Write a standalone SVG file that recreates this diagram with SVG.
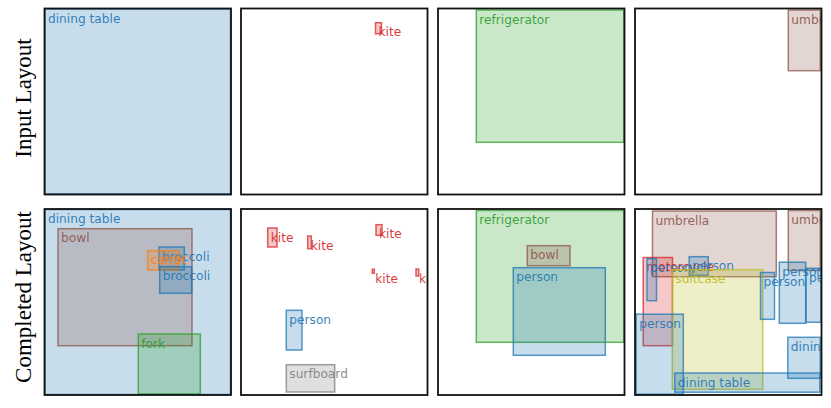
<svg xmlns="http://www.w3.org/2000/svg" width="831" height="408" viewBox="0 0 831 408">
<style>
rect.box{fill-opacity:.25;stroke-opacity:.75;stroke-width:1.5}
text.lbl{font-family:"DejaVu Sans",sans-serif;font-size:12.2px;fill-opacity:.92}
.frame{fill:none;stroke:#111;stroke-width:1.8}
.row{font-family:"Liberation Serif","Times New Roman",serif;font-size:23px;fill:#000}
.blue{fill:#1f77b4;stroke:#1f77b4}
.orange{fill:#ff7f0e;stroke:#ff7f0e}
.green{fill:#2ca02c;stroke:#2ca02c}
.red{fill:#d62728;stroke:#d62728}
.brown{fill:#8c564b;stroke:#8c564b}
.gray{fill:#7f7f7f;stroke:#7f7f7f}
.olive{fill:#bcbd22;stroke:#bcbd22}
text.blue,text.orange,text.green,text.red,text.brown,text.gray,text.olive{stroke:none}
</style>
<defs>
<clipPath id="c1"><rect x="44.5" y="8.5" width="186.5" height="186"/></clipPath>
<clipPath id="c2"><rect x="241" y="8.5" width="186.5" height="186"/></clipPath>
<clipPath id="c3"><rect x="438" y="8.5" width="186.5" height="186"/></clipPath>
<clipPath id="c4"><rect x="635" y="8.5" width="186.5" height="186"/></clipPath>
<clipPath id="c5"><rect x="44.5" y="209" width="186.5" height="186"/></clipPath>
<clipPath id="c6"><rect x="241" y="209" width="186.5" height="186"/></clipPath>
<clipPath id="c7"><rect x="438" y="209" width="186.5" height="186"/></clipPath>
<clipPath id="c8"><rect x="635" y="209" width="186.5" height="186"/></clipPath>
</defs>
<rect width="831" height="408" fill="#fff"/>
<text class="row" transform="translate(31,98) rotate(-90)" text-anchor="middle">Input Layout</text>
<text class="row" transform="translate(31,297) rotate(-90)" text-anchor="middle">Completed Layout</text>

<!-- Input row -->
<g id="in1" clip-path="url(#c1)">
<g id="in1-dining-table"><rect class="box blue" x="45" y="9" width="185.5" height="185"/><text class="lbl blue" x="48" y="22.5">dining table</text></g>
</g>
<g id="in2" clip-path="url(#c2)">
<g id="in2-kite"><rect class="box red" x="375.5" y="22.7" width="6" height="11"/><text class="lbl red" x="378.5" y="36.2">kite</text></g>
</g>
<g id="in3" clip-path="url(#c3)">
<g id="in3-refrigerator"><rect class="box green" x="476.3" y="10" width="147.5" height="132.3"/><text class="lbl green" x="479.3" y="23.5">refrigerator</text></g>
</g>
<g id="in4" clip-path="url(#c4)">
<g id="in4-umbrella"><rect class="box brown" x="788.3" y="10" width="32" height="60.7"/><text class="lbl brown" x="791.3" y="23.5">umbrella</text></g>
</g>

<!-- Completed row -->
<g id="out1" clip-path="url(#c5)">
<g id="out1-dining-table"><rect class="box blue" x="45" y="209.5" width="185.5" height="185"/><text class="lbl blue" x="48" y="223">dining table</text></g>
<g id="out1-bowl"><rect class="box brown" x="58" y="228.7" width="134" height="117"/><text class="lbl brown" x="61" y="242.2">bowl</text></g>
<g id="out1-broccoli-1"><rect class="box blue" x="159" y="247" width="25.3" height="23"/><text class="lbl blue" x="162" y="260.5">broccoli</text></g>
<g id="out1-carrot"><rect class="box orange" x="147.7" y="250.7" width="31.3" height="19.3"/><text class="lbl orange" x="150.7" y="264.2">carrot</text></g>
<g id="out1-broccoli-2"><rect class="box blue" x="159.7" y="266.7" width="32" height="26.6"/><text class="lbl blue" x="162.7" y="280.2">broccoli</text></g>
<g id="out1-fork"><rect class="box green" x="138.3" y="334" width="62" height="60"/><text class="lbl green" x="141.3" y="347.5">fork</text></g>
</g>

<g id="out2" clip-path="url(#c6)">
<g id="out2-kite-1"><rect class="box red" x="267.7" y="228" width="9.3" height="19"/><text class="lbl red" x="270.7" y="241.5">kite</text></g>
<g id="out2-kite-2"><rect class="box red" x="307.7" y="236" width="3.6" height="12.7"/><text class="lbl red" x="310.7" y="249.5">kite</text></g>
<g id="out2-kite-3"><rect class="box red" x="376" y="224.7" width="6" height="10.6"/><text class="lbl red" x="379" y="238.2">kite</text></g>
<g id="out2-kite-4"><rect class="box red" x="372.3" y="269.3" width="2" height="4"/><text class="lbl red" x="375.3" y="282.8">kite</text></g>
<g id="out2-kite-5"><rect class="box red" x="416" y="269" width="2.7" height="7"/><text class="lbl red" x="419" y="282.5">kite</text></g>
<g id="out2-person"><rect class="box blue" x="286.3" y="310.3" width="15.7" height="39.7"/><text class="lbl blue" x="289.3" y="323.8">person</text></g>
<g id="out2-surfboard"><rect class="box gray" x="286.3" y="364.7" width="48.4" height="27.3"/><text class="lbl gray" x="289.3" y="378.2">surfboard</text></g>
</g>

<g id="out3" clip-path="url(#c7)">
<g id="out3-refrigerator"><rect class="box green" x="476.3" y="210.5" width="147.5" height="131.8"/><text class="lbl green" x="479.3" y="224">refrigerator</text></g>
<g id="out3-bowl"><rect class="box brown" x="527.3" y="245.7" width="42.7" height="20"/><text class="lbl brown" x="530.3" y="259.2">bowl</text></g>
<g id="out3-person"><rect class="box blue" x="513.3" y="267.7" width="92" height="87.6"/><text class="lbl blue" x="516.3" y="281.2">person</text></g>
</g>

<g id="out4" clip-path="url(#c8)">
<g id="out4-umbrella-1"><rect class="box brown" x="652.5" y="211" width="123.8" height="65.7"/><text class="lbl brown" x="655.5" y="224.5">umbrella</text></g>
<g id="out4-umbrella-2"><rect class="box brown" x="788.3" y="210.5" width="32" height="60"/><text class="lbl brown" x="791.3" y="224">umbrella</text></g>
<g id="out4-motorcycle"><rect class="box red" x="643.2" y="257.5" width="29.3" height="88.2"/><text class="lbl red" x="646.2" y="271">motorcycle</text></g>
<g id="out4-person-1"><rect class="box blue" x="647" y="258.7" width="9.5" height="42"/><text class="lbl blue" x="650" y="272.2">person</text></g>
<g id="out4-person-2"><rect class="box blue" x="689.2" y="256.7" width="19" height="18.5"/><text class="lbl blue" x="692.2" y="270.2">person</text></g>
<g id="out4-suitcase"><rect class="box olive" x="672.3" y="269.7" width="90.4" height="119.6"/><text class="lbl olive" x="675.3" y="283.2">suitcase</text></g>
<g id="out4-person-3"><rect class="box blue" x="760.5" y="272.5" width="14" height="46.8"/><text class="lbl blue" x="763.5" y="286">person</text></g>
<g id="out4-person-4"><rect class="box blue" x="779.3" y="262.2" width="26.4" height="61.1"/><text class="lbl blue" x="782.3" y="275.7">person</text></g>
<g id="out4-person-5"><rect class="box blue" x="806" y="268.3" width="15" height="54"/><text class="lbl blue" x="809" y="281.8">person</text></g>
<g id="out4-person-6"><rect class="box blue" x="636.2" y="314.2" width="47.1" height="80"/><text class="lbl blue" x="639.2" y="327.7">person</text></g>
<g id="out4-dining-table-1"><rect class="box blue" x="787.8" y="337.3" width="32.5" height="41"/><text class="lbl blue" x="790.8" y="350.8">dining table</text></g>
<g id="out4-dining-table-2"><rect class="box blue" x="674.8" y="373" width="145" height="19.2"/><text class="lbl blue" x="677.8" y="386.5">dining table</text></g>
</g>

<g id="frames">
<rect class="frame" x="44.5" y="8.5" width="186.5" height="186"/>
<rect class="frame" x="241" y="8.5" width="186.5" height="186"/>
<rect class="frame" x="438" y="8.5" width="186.5" height="186"/>
<rect class="frame" x="635" y="8.5" width="186.5" height="186"/>
<rect class="frame" x="44.5" y="209" width="186.5" height="186"/>
<rect class="frame" x="241" y="209" width="186.5" height="186"/>
<rect class="frame" x="438" y="209" width="186.5" height="186"/>
<rect class="frame" x="635" y="209" width="186.5" height="186"/>
</g>
</svg>
